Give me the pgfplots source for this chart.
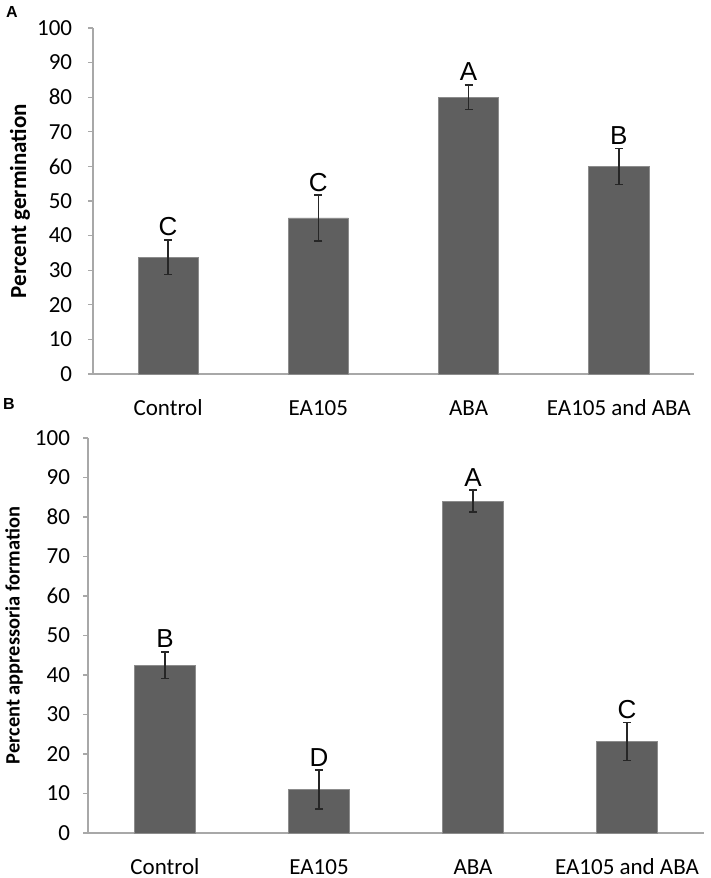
\documentclass[border=0pt]{standalone}
\usepackage{pgfplots}
\pgfplotsset{compat=1.18}
\usepackage{fontspec}
\setmainfont{Carlito}
\newfontfamily\arial{Liberation Sans}
\definecolor{barfill}{HTML}{5F5F5F}
\definecolor{baredge}{HTML}{8C8C8C}
\definecolor{axgray}{HTML}{A8A8A8}
\pgfplotsset{
  myaxis/.style={
    scale only axis,
    axis x line=bottom, axis y line=left,
    axis line style={-, axgray, line width=0.6pt},
    xmin=-0.5, xmax=3.5, ymin=0, ymax=100,
    ytick={0,10,...,100},
    xtick={0,1,2,3},
    xticklabels={Control,EA105,ABA,EA105 and ABA},
    xtick style={draw=none},
    minor xtick={-0.5,0.5,1.5,2.5,3.5},
    minor tick length=2.5pt,
    major tick length=2.5pt,
    tick align=outside,
    ytick style={axgray, line width=0.6pt},
    minor x tick style={axgray, line width=0.6pt},
    /pgf/number format/assume math mode=true,
    tick label style={font=\fontsize{11.5}{13}\selectfont, black},
    xticklabel style={yshift=-18pt, anchor=base, text depth=0pt},
    bar width=0.4,
    clip=false,
  },
  mybars/.style={
    ybar, fill=barfill, draw=baredge, line width=0.4pt,
    error bars/.cd, y dir=both, y explicit,
    error bar style={line width=0.8pt, black!85},
    error mark options={rotate=90, mark size=2pt, line width=0.8pt, black!85},
  },
  myletters/.style={
    draw=none, mark=none,
    nodes near coords, point meta=explicit symbolic,
    nodes near coords style={anchor=base, yshift=2pt, inner sep=0pt,
      font=\arial\fontsize{13}{15}\selectfont, black},
  },
}
\begin{document}
\begin{tikzpicture}
\useasboundingbox (0pt,0pt) rectangle (355.5pt,-439pt);
% Panel A
\begin{axis}[myaxis, at={(46.5pt,-187pt)}, anchor=south west,
  width=300.5pt, height=173pt,
  ylabel={Percent germination},
  every axis y label/.style={at={(axis description cs:-0.1215,0.5)}, rotate=90, anchor=center,
    font=\bfseries\fontsize{11.5}{13}\selectfont},
  yticklabel style={xshift=-4.4pt}]
\addplot[mybars] coordinates {
  (0,33.8) +- (0,5.0)
  (1,45.1) +- (0,6.6)
  (2,80.0) +- (0,3.6)
  (3,60.0) +- (0,5.2)
};
\addplot[myletters] coordinates {
  (0,38.8) [C]
  (1,51.7) [C]
  (2,83.6) [A]
  (3,65.2) [B]
};
\end{axis}
% Panel B
\begin{axis}[myaxis, at={(44pt,-416.5pt)}, anchor=south west,
  width=308pt, height=197.5pt,
  ylabel={Percent appressoria formation},
  every axis y label/.style={at={(axis description cs:-0.12,0.5)}, rotate=90, anchor=center,
    font=\bfseries\fontsize{10.2}{12}\selectfont},
  yticklabel style={xshift=-3pt}]
\addplot[mybars] coordinates {
  (0,42.5) +- (0,3.4)
  (1,11.0) +- (0,4.9)
  (2,84.0) +- (0,2.8)
  (3,23.2) +- (0,4.8)
};
\addplot[myletters] coordinates {
  (0,45.9) [B]
  (1,15.9) [D]
  (2,86.8) [A]
  (3,28.0) [C]
};
\end{axis}
\node[font=\arial\bfseries\fontsize{8}{9}\selectfont, anchor=center] at (6pt,-6pt) {A};
\node[font=\arial\bfseries\fontsize{8}{9}\selectfont, anchor=center] at (4.5pt,-202pt) {B};
\end{tikzpicture}
\end{document}
